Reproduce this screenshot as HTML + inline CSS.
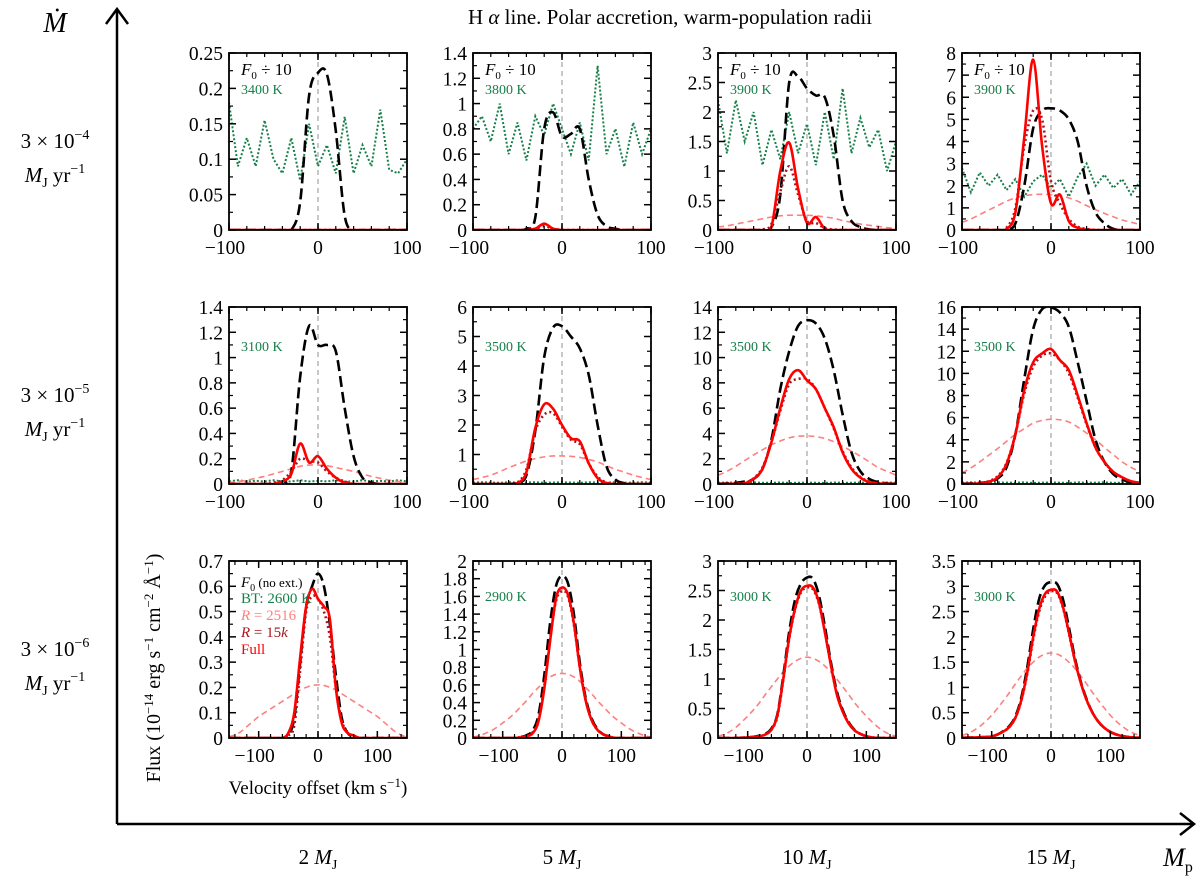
<!DOCTYPE html>
<html><head><meta charset="utf-8"><style>
html,body{margin:0;padding:0;background:#fff;}
svg{display:block;font-family:"Liberation Serif",serif;}
</style></head><body>
<svg id="fig" width="1200" height="876" viewBox="0 0 1200 876" xmlns="http://www.w3.org/2000/svg">
<text x="670" y="24" font-size="21" text-anchor="middle">H <tspan font-style="italic">α</tspan> line. Polar accretion, warm-population radii</text>
<g>
<line x1="117" y1="824" x2="117" y2="11" stroke="#000" stroke-width="2.5"/>
<polyline points="106,24 117,9 128,24" fill="none" stroke="#000" stroke-width="2.5"/>
<text x="55" y="32" font-size="28" font-style="italic" text-anchor="middle">Ṁ</text>
</g>
<g>
<line x1="117" y1="824" x2="1192" y2="824" stroke="#000" stroke-width="2.5"/>
<polyline points="1180,813 1194,824 1180,835" fill="none" stroke="#000" stroke-width="2.5"/>
<text x="1178" y="866" font-size="26" font-style="italic" text-anchor="middle">M<tspan font-size="16" font-style="normal" dy="6">p</tspan></text>
</g>
<g font-size="21" text-anchor="middle">
<text x="55" y="148">3 × 10<tspan font-size="14" dy="-9">−4</tspan></text>
<text x="55" y="182"><tspan font-style="italic">M</tspan><tspan font-size="14" dy="5">J</tspan><tspan dy="-5"> yr</tspan><tspan font-size="14" dy="-9">−1</tspan></text>
<text x="55" y="402">3 × 10<tspan font-size="14" dy="-9">−5</tspan></text>
<text x="55" y="436"><tspan font-style="italic">M</tspan><tspan font-size="14" dy="5">J</tspan><tspan dy="-5"> yr</tspan><tspan font-size="14" dy="-9">−1</tspan></text>
<text x="55" y="656">3 × 10<tspan font-size="14" dy="-9">−6</tspan></text>
<text x="55" y="690"><tspan font-style="italic">M</tspan><tspan font-size="14" dy="5">J</tspan><tspan dy="-5"> yr</tspan><tspan font-size="14" dy="-9">−1</tspan></text>
</g>
<g font-size="21" text-anchor="middle">
<text x="318" y="864">2 <tspan font-style="italic">M</tspan><tspan font-size="14" dy="5">J</tspan></text>
<text x="562" y="864">5 <tspan font-style="italic">M</tspan><tspan font-size="14" dy="5">J</tspan></text>
<text x="807" y="864">10 <tspan font-style="italic">M</tspan><tspan font-size="14" dy="5">J</tspan></text>
<text x="1051" y="864">15 <tspan font-style="italic">M</tspan><tspan font-size="14" dy="5">J</tspan></text>
</g>
<text transform="translate(160,668) rotate(-90)" font-size="20" text-anchor="middle">Flux (10<tspan font-size="13" dy="-7">−14</tspan><tspan dy="7"> erg s</tspan><tspan font-size="13" dy="-7">−1</tspan><tspan dy="7"> cm</tspan><tspan font-size="13" dy="-7">−2</tspan><tspan dy="7"> Å</tspan><tspan font-size="13" dy="-7">−1</tspan><tspan dy="7">)</tspan></text>
<text x="318" y="794" font-size="19" text-anchor="middle">Velocity offset (km s<tspan font-size="13" dy="-7">−1</tspan><tspan dy="7">)</tspan></text>
<g id="panels"></g>
</svg>
<script>
// velocity grids (km/s)
const velTop = [-100,-90,-80,-70,-60,-50,-40,-30,-20,-10,0,10,20,30,40,50,60,70,80,90,100];
const velBottom = [-150,-140,-130,-120,-110,-100,-90,-80,-70,-60,-50,-40,-30,-20,-10,0,10,20,30,40,50,60,70,80,90,100,110,120,130,140,150];

// Panel 1: 2 MJ, 3e-4
const p1Black = [0,0,0,0,0,0,0,0,0.04,0.19,0.222,0.22,0.14,0.02,0,0,0,0,0,0,0];
const p1Green = [0.18,0.09,0.13,0.09,0.155,0.1,0.08,0.13,0.07,0.15,0.09,0.12,0.08,0.16,0.08,0.12,0.09,0.17,0.085,0.08,0.1];
const p1Pink = [0,0,0,0,0,0,0,0,0,0,0,0,0,0,0,0,0,0,0,0,0];
const p1Dred = [0,0,0,0,0,0,0,0,0,0,0,0,0,0,0,0,0,0,0,0,0];
const p1Red = [0,0,0,0,0,0,0,0,0,0,0,0,0,0,0,0,0,0,0,0,0];
const p1Ticks = [0,0.05,0.1,0.15,0.2,0.25];
// Panel 2: 5 MJ, 3e-4
const p2Black = [0,0,0,0,0,0,0.01,0.1,0.8,0.93,0.74,0.76,0.8,0.4,0.12,0.03,0.01,0,0,0,0];
const p2Green = [0.8,0.9,0.7,1.0,0.6,0.85,0.55,0.9,0.75,1.0,0.8,0.6,0.85,0.55,1.3,0.6,0.8,0.5,0.85,0.6,0.8];
const p2Pink = [0,0,0,0,0,0,0,0,0,0,0,0,0,0,0,0,0,0,0,0,0];
const p2Dred = [0,0,0,0,0,0,0,0.01,0.03,0.01,0,0,0,0,0,0,0,0,0,0,0];
const p2Red = [0,0,0,0,0,0,0,0.01,0.05,0.01,0,0,0,0,0,0,0,0,0,0,0];
const p2Ticks = [0,0.2,0.4,0.6,0.8,1,1.2,1.4];
// Panel 3: 10 MJ, 3e-4
const p3Black = [0,0,0,0,0,0,0.05,0.6,2.5,2.6,2.4,2.28,2.25,1.6,0.5,0.15,0.05,0.01,0,0,0];
const p3Green = [2.2,1.3,2.2,1.5,2.0,1.1,1.7,1.2,2.0,1.3,1.8,1.1,2.0,1.2,2.4,1.3,1.9,1.4,1.7,1.0,1.5];
const p3Pink = [0.05,0.07,0.1,0.13,0.16,0.19,0.22,0.24,0.25,0.25,0.25,0.24,0.22,0.2,0.16,0.13,0.1,0.08,0.06,0.04,0.03];
const p3Dred = [0,0,0,0,0,0.01,0.1,0.65,1.08,0.6,0.15,0.12,0.03,0.01,0,0,0,0,0,0,0];
const p3Red = [0,0,0,0,0,0,0.05,1.0,1.48,0.7,0.12,0.22,0.02,0,0,0,0,0,0,0,0];
const p3Ticks = [0,0.5,1,1.5,2,2.5,3];
// Panel 4: 15 MJ, 3e-4
const p4Black = [0,0,0,0,0,0.02,0.3,2.0,4.6,5.4,5.5,5.4,5.0,4.0,2.0,0.8,0.3,0.05,0,0,0];
const p4Green = [2.8,1.7,2.6,2.0,2.5,1.8,2.3,1.5,2.2,2.5,1.9,2.3,1.5,2.4,3.0,2.0,2.5,1.9,2.3,1.6,2.2];
const p4Pink = [0.35,0.5,0.7,0.9,1.1,1.3,1.45,1.55,1.6,1.62,1.6,1.55,1.45,1.3,1.1,0.92,0.75,0.6,0.45,0.35,0.25];
const p4Dred = [0,0,0,0,0,0.1,1.0,3.8,5.4,5.0,2.2,1.2,0.5,0.15,0.05,0,0,0,0,0,0];
const p4Red = [0,0,0,0,0,0.05,0.8,4.2,7.7,3.8,1.2,1.6,0.4,0.1,0.02,0,0,0,0,0,0];
const p4Ticks = [0,1,2,3,4,5,6,7,8];
// Panel 5: 2 MJ, 3e-5
const p5Black = [0,0,0,0,0,0,0.02,0.1,0.85,1.25,1.1,1.1,1.05,0.6,0.22,0.05,0.01,0,0,0,0];
const p5Green = [0.02,0.03,0.02,0.025,0.02,0.03,0.02,0.02,0.03,0.02,0.025,0.02,0.03,0.02,0.02,0.03,0.02,0.025,0.02,0.03,0.02];
const p5Pink = [0.01,0.02,0.03,0.045,0.06,0.08,0.1,0.12,0.14,0.15,0.15,0.145,0.13,0.115,0.1,0.08,0.06,0.045,0.03,0.02,0.01];
const p5Dred = [0,0,0,0,0,0.01,0.03,0.1,0.2,0.18,0.17,0.1,0.05,0.02,0,0,0,0,0,0,0];
const p5Red = [0,0,0,0,0,0,0.02,0.08,0.32,0.17,0.22,0.12,0.05,0.01,0,0,0,0,0,0,0];
const p5Ticks = [0,0.2,0.4,0.6,0.8,1,1.2,1.4];
// Panel 6: 5 MJ, 3e-5
const p6Black = [0,0,0,0,0,0.05,0.3,1.8,4.3,5.3,5.35,5.0,4.6,3.7,2.0,0.6,0.15,0.03,0,0,0];
const p6Green = [0.05,0.06,0.05,0.04,0.06,0.05,0.05,0.06,0.04,0.05,0.06,0.05,0.04,0.06,0.05,0.05,0.06,0.04,0.05,0.06,0.05];
const p6Pink = [0.15,0.22,0.3,0.42,0.55,0.67,0.78,0.86,0.92,0.95,0.95,0.94,0.9,0.83,0.75,0.62,0.5,0.4,0.3,0.22,0.15];
const p6Dred = [0,0,0,0,0,0.05,0.5,1.8,2.35,2.4,1.95,1.5,1.35,0.7,0.25,0.05,0,0,0,0,0];
const p6Red = [0,0,0,0,0,0.03,0.4,1.9,2.7,2.55,2.0,1.55,1.45,0.7,0.2,0.03,0,0,0,0,0];
const p6Ticks = [0,1,2,3,4,5,6];
// Panel 7: 10 MJ, 3e-5
const p7Black = [0.02,0.05,0.1,0.2,0.4,1.2,3.5,7.5,10.5,12.5,12.95,12.7,11.5,9.0,5.5,2.5,1.0,0.4,0.15,0.05,0.02];
const p7Green = [0.1,0.12,0.1,0.08,0.12,0.1,0.1,0.12,0.08,0.1,0.12,0.1,0.08,0.12,0.1,0.1,0.12,0.08,0.1,0.12,0.1];
const p7Pink = [0.7,1.0,1.4,1.85,2.3,2.7,3.1,3.4,3.65,3.78,3.8,3.75,3.6,3.35,3.0,2.6,2.2,1.75,1.3,1.0,0.7];
const p7Dred = [0,0.01,0.03,0.08,0.45,1.3,3.3,5.8,7.9,8.3,8.3,7.5,6.0,4.4,2.6,1.3,0.55,0.2,0.07,0.02,0];
const p7Red = [0,0.01,0.02,0.05,0.4,1.2,3.3,6.0,8.3,9.0,8.2,7.5,6.0,4.5,2.5,1.2,0.5,0.15,0.05,0.02,0];
const p7Ticks = [0,2,4,6,8,10,12,14];
// Panel 8: 15 MJ, 3e-5
const p8Black = [0.03,0.05,0.1,0.2,0.5,1.5,4.5,9.5,14,15.8,15.95,15.5,14.2,11,7.5,4.0,2.0,0.9,0.4,0.15,0.05];
const p8Green = [0.12,0.15,0.12,0.1,0.15,0.12,0.12,0.15,0.1,0.12,0.15,0.12,0.1,0.15,0.12,0.12,0.15,0.1,0.12,0.15,0.12];
const p8Pink = [1.0,1.45,2.0,2.6,3.2,3.85,4.5,5.0,5.5,5.75,5.85,5.8,5.6,5.15,4.6,4.0,3.3,2.65,2.0,1.5,1.1];
const p8Dred = [0.01,0.02,0.06,0.25,0.7,1.9,4.5,8.2,10.6,11.6,11.8,11.2,10.0,7.8,5.4,3.3,2.0,1.1,0.6,0.25,0.1];
const p8Red = [0.01,0.02,0.05,0.2,0.6,1.8,4.5,8.5,11.0,11.8,12.2,11.2,10.3,8.0,5.5,3.3,2.0,1.1,0.6,0.25,0.1];
const p8Ticks = [0,2,4,6,8,10,12,14,16];
// Panel 9: 2 MJ, 3e-6
const p9Black = [0,0,0,0,0,0,0,0,0,0,0.01,0.08,0.3,0.52,0.6,0.65,0.6,0.45,0.25,0.08,0.02,0.005,0,0,0,0,0,0,0,0,0];
const p9Green = [0,0,0,0,0,0,0,0,0,0,0,0,0,0,0,0,0,0,0,0,0,0,0,0,0,0,0,0,0,0,0];
const p9Pink = [0.005,0.012,0.025,0.045,0.065,0.085,0.1,0.115,0.13,0.145,0.16,0.175,0.19,0.2,0.208,0.21,0.208,0.2,0.19,0.175,0.16,0.145,0.13,0.115,0.1,0.085,0.065,0.045,0.025,0.012,0.005];
const p9Dred = [0,0,0,0,0,0,0,0,0,0,0.01,0.05,0.27,0.5,0.56,0.55,0.5,0.4,0.2,0.07,0.02,0.01,0,0,0,0,0,0,0,0,0];
const p9Red = [0,0,0,0,0,0,0,0,0,0,0.02,0.1,0.32,0.52,0.59,0.55,0.52,0.47,0.2,0.06,0.02,0.01,0,0,0,0,0,0,0,0,0];
const p9Ticks = [0,0.1,0.2,0.3,0.4,0.5,0.6,0.7];
// Panel 10: 5 MJ, 3e-6
const p10Black = [0,0,0,0,0,0,0,0,0.01,0.03,0.08,0.25,0.7,1.3,1.72,1.83,1.75,1.4,0.85,0.45,0.22,0.1,0.04,0.02,0,0,0,0,0,0,0];
const p10Green = [0,0,0,0,0,0,0,0,0,0,0,0,0,0,0,0,0,0,0,0,0,0,0,0,0,0,0,0,0,0,0];
const p10Pink = [0.01,0.025,0.05,0.08,0.12,0.17,0.22,0.28,0.35,0.42,0.5,0.57,0.64,0.69,0.72,0.73,0.72,0.69,0.64,0.57,0.5,0.42,0.35,0.28,0.22,0.17,0.12,0.08,0.05,0.025,0.01];
const p10Dred = [0,0,0,0,0,0,0,0,0.01,0.02,0.06,0.2,0.58,1.12,1.55,1.66,1.6,1.28,0.8,0.43,0.2,0.09,0.04,0.015,0,0,0,0,0,0,0];
const p10Red = [0,0,0,0,0,0,0,0,0.005,0.02,0.05,0.18,0.55,1.1,1.58,1.7,1.62,1.3,0.8,0.42,0.2,0.09,0.04,0.015,0,0,0,0,0,0,0];
const p10Ticks = [0,0.2,0.4,0.6,0.8,1,1.2,1.4,1.6,1.8,2];
// Panel 11: 10 MJ, 3e-6
const p11Black = [0,0,0,0,0.005,0.01,0.02,0.04,0.07,0.16,0.4,1.05,1.8,2.35,2.62,2.72,2.7,2.42,1.9,1.3,0.8,0.48,0.27,0.14,0.07,0.03,0.01,0,0,0,0];
const p11Green = [0,0,0,0,0,0,0,0,0,0,0,0,0,0,0,0,0,0,0,0,0,0,0,0,0,0,0,0,0,0,0];
const p11Pink = [0.03,0.06,0.11,0.18,0.27,0.37,0.48,0.6,0.74,0.87,1.0,1.12,1.22,1.3,1.35,1.37,1.35,1.3,1.22,1.12,1.0,0.87,0.74,0.6,0.48,0.37,0.27,0.18,0.11,0.06,0.03];
const p11Dred = [0,0,0,0,0.005,0.01,0.02,0.03,0.06,0.14,0.36,0.98,1.68,2.18,2.47,2.55,2.52,2.28,1.8,1.25,0.76,0.46,0.26,0.13,0.07,0.03,0.01,0,0,0,0];
const p11Red = [0,0,0,0,0.005,0.01,0.02,0.03,0.06,0.14,0.38,1.0,1.7,2.2,2.5,2.58,2.55,2.3,1.8,1.25,0.75,0.45,0.25,0.13,0.07,0.03,0.01,0,0,0,0];
const p11Ticks = [0,0.5,1,1.5,2,2.5,3];
// Panel 12: 15 MJ, 3e-6
const p12Black = [0.005,0.008,0.01,0.015,0.02,0.03,0.07,0.14,0.24,0.43,0.8,1.4,2.15,2.75,3.02,3.08,3.05,2.75,2.2,1.6,1.12,0.77,0.5,0.32,0.2,0.12,0.07,0.04,0.02,0.01,0.005];
const p12Green = [0,0,0,0,0,0,0,0,0,0,0,0,0,0,0,0,0,0,0,0,0,0,0,0,0,0,0,0,0,0,0];
const p12Pink = [0.05,0.09,0.15,0.23,0.33,0.45,0.59,0.74,0.9,1.07,1.23,1.38,1.5,1.6,1.66,1.68,1.66,1.6,1.5,1.38,1.23,1.07,0.9,0.74,0.59,0.45,0.33,0.23,0.15,0.09,0.05];
const p12Dred = [0.005,0.008,0.01,0.015,0.02,0.03,0.07,0.13,0.22,0.4,0.74,1.27,1.95,2.5,2.8,2.9,2.87,2.58,2.08,1.54,1.1,0.75,0.5,0.32,0.2,0.12,0.07,0.04,0.02,0.01,0.005];
const p12Red = [0.005,0.008,0.01,0.015,0.02,0.03,0.07,0.13,0.22,0.4,0.75,1.3,2.0,2.55,2.85,2.93,2.9,2.6,2.1,1.55,1.1,0.75,0.5,0.32,0.2,0.12,0.07,0.04,0.02,0.01,0.005];
const p12Ticks = [0,0.5,1,1.5,2,2.5,3,3.5];

const tempLabels = ['3400 K','3800 K','3900 K','3900 K','3100 K','3500 K','3500 K','3500 K','BT: 2600 K','2900 K','3000 K','3000 K'];

const NS = 'http://www.w3.org/2000/svg';
const root = document.getElementById('panels');
function mk(tag, attrs, parent){
  const e = document.createElementNS(NS, tag);
  for (const k in attrs) e.setAttribute(k, attrs[k]);
  (parent||root).appendChild(e);
  return e;
}
const colX = [229,473,718,962], rowY = [53,307,561], PW = 178, PH = 177;
const panels = [
  [p1Black,p1Green,p1Pink,p1Dred,p1Red,p1Ticks],
  [p2Black,p2Green,p2Pink,p2Dred,p2Red,p2Ticks],
  [p3Black,p3Green,p3Pink,p3Dred,p3Red,p3Ticks],
  [p4Black,p4Green,p4Pink,p4Dred,p4Red,p4Ticks],
  [p5Black,p5Green,p5Pink,p5Dred,p5Red,p5Ticks],
  [p6Black,p6Green,p6Pink,p6Dred,p6Red,p6Ticks],
  [p7Black,p7Green,p7Pink,p7Dred,p7Red,p7Ticks],
  [p8Black,p8Green,p8Pink,p8Dred,p8Red,p8Ticks],
  [p9Black,p9Green,p9Pink,p9Dred,p9Red,p9Ticks],
  [p10Black,p10Green,p10Pink,p10Dred,p10Red,p10Ticks],
  [p11Black,p11Green,p11Pink,p11Dred,p11Red,p11Ticks],
  [p12Black,p12Green,p12Pink,p12Dred,p12Red,p12Ticks]
];
function smoothPath(pts){
  let d = 'M' + pts[0][0].toFixed(2) + ',' + pts[0][1].toFixed(2);
  for (let i=0;i<pts.length-1;i++){
    const p0 = pts[Math.max(0,i-1)], p1 = pts[i], p2 = pts[i+1], p3 = pts[Math.min(pts.length-1,i+2)];
    const c1x = p1[0]+(p2[0]-p0[0])/6, c1y = p1[1]+(p2[1]-p0[1])/6;
    const c2x = p2[0]-(p3[0]-p1[0])/6, c2y = p2[1]-(p3[1]-p1[1])/6;
    d += ' C'+c1x.toFixed(2)+','+c1y.toFixed(2)+' '+c2x.toFixed(2)+','+c2y.toFixed(2)+' '+p2[0].toFixed(2)+','+p2[1].toFixed(2);
  }
  return d;
}
function linePath(pts){ return 'M' + pts.map(p=>p[0].toFixed(2)+','+p[1].toFixed(2)).join(' L'); }
function fmt(v){ return String(+v.toFixed(3)); }

panels.forEach((p, idx) => {
  const r = Math.floor(idx/4), c = idx%4;
  const x0 = colX[c], y0 = rowY[r];
  const vel = r < 2 ? velTop : velBottom;
  const xmin = r < 2 ? -100 : -150, xmax = -xmin;
  const ticks = p[5];
  const ymax = ticks[ticks.length-1];
  const sx = v => x0 + (v - xmin)/(xmax - xmin)*PW;
  const sy = v => y0 + PH - v/ymax*PH;
  const g = mk('g', {});
  
  
  const cid = 'clip' + idx;
  const cp = mk('clipPath', {id: cid}, g);
  mk('rect', {x: x0, y: y0, width: PW, height: PH}, cp);
  const zl = mk('line', {x1: sx(0), x2: sx(0), y1: y0, y2: y0+PH, stroke: '#c8c8c8', 'stroke-width': 2, 'stroke-dasharray': '5,4'}, g);
  
  
  const cg = mk('g', {'clip-path': 'url(#' + cid + ')'}, g);
  const toPts = arr => arr.map((v,i) => [sx(vel[i]), sy(v)]);
  const green = mk('path', {d: linePath(toPts(p[1])), fill: 'none', stroke: '#17804a', 'stroke-width': 2, 'stroke-dasharray': '2,2'}, cg);
  
  
  const pink = mk('path', {d: smoothPath(toPts(p[2])), fill: 'none', stroke: '#ff7f7f', 'stroke-width': 1.6, 'stroke-dasharray': '6,4'}, cg);
  
  
  const black = mk('path', {d: smoothPath(toPts(p[0])), fill: 'none', stroke: '#000', 'stroke-width': 2.6, 'stroke-dasharray': '11,5'}, cg);
  
  
  const dred = mk('path', {d: smoothPath(toPts(p[3])), fill: 'none', stroke: '#a8141c', 'stroke-width': 2.6, 'stroke-dasharray': '2,3'}, cg);
  
  
  const red = mk('path', {d: smoothPath(toPts(p[4])), fill: 'none', stroke: '#ff0000', 'stroke-width': 2.6}, cg);
  
  
  mk('rect', {x: x0, y: y0, width: PW, height: PH, fill: 'none', stroke: '#000', 'stroke-width': 1.8}, g);
  const step = ticks[1]-ticks[0];
  ticks.forEach(t => {
    const y = sy(t);
    mk('line', {x1: x0, x2: x0+7, y1: y, y2: y, stroke: '#000', 'stroke-width': 1.5}, g);
    mk('line', {x1: x0+PW-7, x2: x0+PW, y1: y, y2: y, stroke: '#000', 'stroke-width': 1.5}, g);
    const tl = mk('text', {x: x0-6, y: y+7, 'font-size': 19.5, 'text-anchor': 'end'}, g);
    tl.textContent = fmt(t);
    
    
    if (t < ymax){
      const ym = sy(t + step/2);
      mk('line', {x1: x0, x2: x0+4, y1: ym, y2: ym, stroke: '#000', 'stroke-width': 1.2}, g);
      mk('line', {x1: x0+PW-4, x2: x0+PW, y1: ym, y2: ym, stroke: '#000', 'stroke-width': 1.2}, g);
    }
  });
  for (let v = xmin + ((xmin % 20) ? 10 : 0); v <= xmax; v += 20){
    const x = sx(v);
    mk('line', {x1: x, x2: x, y1: y0+PH, y2: y0+PH-4, stroke: '#000', 'stroke-width': 1.2}, g);
    mk('line', {x1: x, x2: x, y1: y0, y2: y0+4, stroke: '#000', 'stroke-width': 1.2}, g);
  }
  [-100,0,100].forEach(v => {
    const x = sx(v);
    mk('line', {x1: x, x2: x, y1: y0+PH, y2: y0+PH-7, stroke: '#000', 'stroke-width': 1.5}, g);
    mk('line', {x1: x, x2: x, y1: y0, y2: y0+7, stroke: '#000', 'stroke-width': 1.5}, g);
    const xl = mk('text', {x: x - (v<0?4:0), y: y0+PH+24, 'font-size': 19.5, 'text-anchor': 'middle'}, g);
    xl.textContent = v < 0 ? '−' + Math.abs(v) : String(v);
    
    
  });
  if (r === 0){
    const f = mk('text', {x: x0+12, y: y0+22, 'font-size': 17}, g);
    f.innerHTML = '<tspan font-style="italic">F</tspan><tspan font-size="11" dy="4">0</tspan><tspan dy="-4"> ÷ 10</tspan>';
    
    
  }
  if (idx !== 8){
    const tt = mk('text', {x: x0+12, y: y0 + (r===0?41:(r===1?44:40)), 'font-size': 14, fill: '#17804a'}, g);
    tt.textContent = tempLabels[idx];
    
    
  }
});

const lg = mk('g', {'font-size': 15});


const lx = 241;
const le = [
  ['<tspan font-style="italic">F</tspan><tspan font-size="10" dy="4">0</tspan><tspan dy="-4" font-size="13"> (no ext.)</tspan>', '#000', 587],
  ['BT: 2600 K', '#17804a', 603],
  ['<tspan font-style="italic">R</tspan> = 2516', '#ff7f7f', 620],
  ['<tspan font-style="italic">R</tspan> = 15<tspan font-style="italic">k</tspan>', '#a8141c', 637],
  ['Full', '#ff0000', 654]
];
le.forEach(e => {
  const t = mk('text', {x: lx, y: e[2], fill: e[1]}, lg);
  t.innerHTML = e[0];
  
  
});
</script>
</body></html>
